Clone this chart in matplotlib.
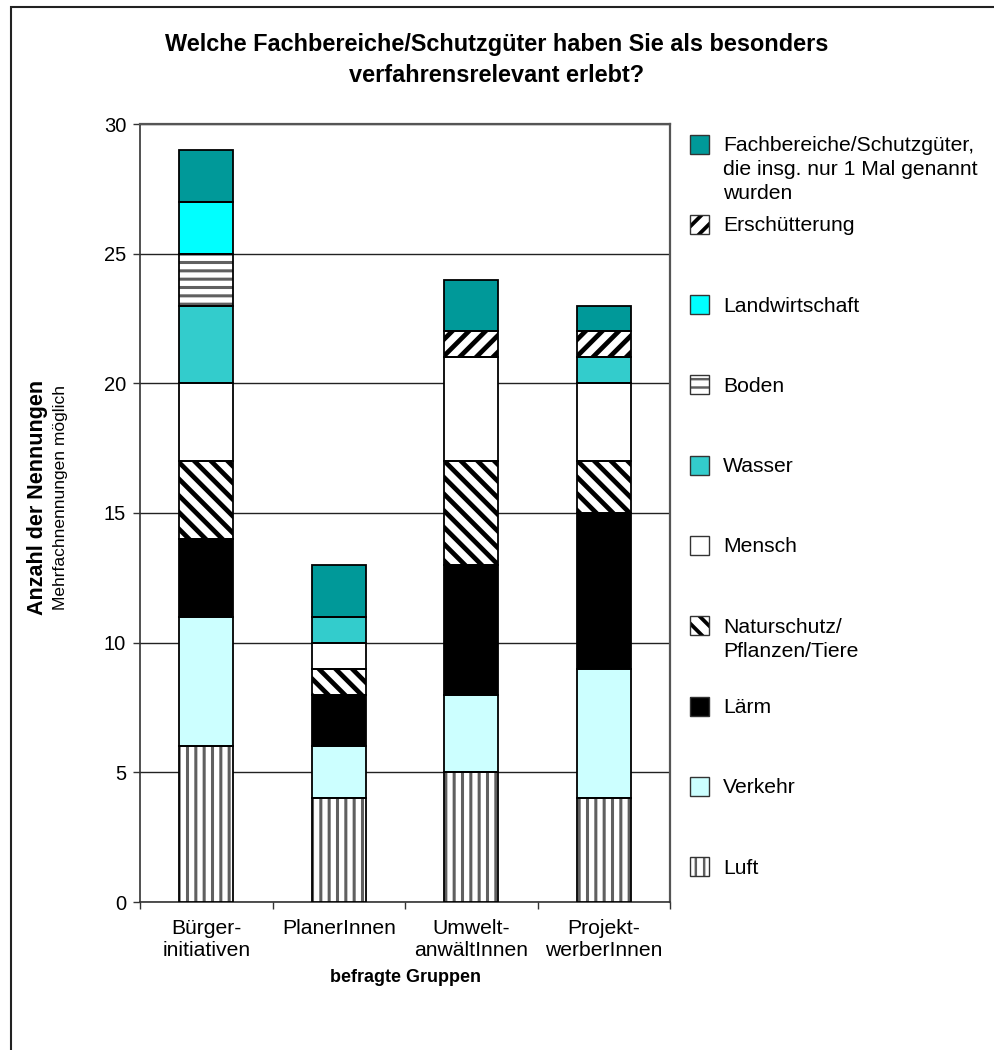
import matplotlib.pyplot as plt
import numpy as np
from matplotlib.patches import Rectangle

plt.rcParams['font.family'] = ['Liberation Sans', 'DejaVu Sans']
plt.rcParams['hatch.linewidth'] = 2.0

# Daten
gruppen = ['Bürger-\ninitiativen', 'PlanerInnen', 'Umwelt-\nanwältInnen', 'Projekt-\nwerberInnen']
luft = [6, 4, 5, 4]
verkehr = [5, 2, 3, 5]
laerm = [3, 2, 5, 6]
natur = [3, 1, 4, 2]
mensch = [3, 1, 4, 3]
wasser = [3, 1, 0, 1]
boden = [2, 0, 0, 0]
landwirtschaft = [2, 0, 0, 0]
erschuetterung = [0, 0, 1, 1]
einmalig = [2, 2, 2, 1]

# (Name, Werte, Füllfarbe, Schraffur, Schraffurfarbe, Schraffurbreite)
serien = [
    ('Luft', luft, 'white', '||', '#606060', 2.2),
    ('Verkehr', verkehr, '#ccffff', None, None, 0),
    ('Lärm', laerm, 'black', None, None, 0),
    ('Naturschutz/\nPflanzen/Tiere', natur, 'white', '\\\\', 'black', 3.4),
    ('Mensch', mensch, 'white', None, None, 0),
    ('Wasser', wasser, '#33cccc', None, None, 0),
    ('Boden', boden, 'white', '--', '#606060', 2.2),
    ('Landwirtschaft', landwirtschaft, '#00ffff', None, None, 0),
    ('Erschütterung', erschuetterung, 'white', '//', 'black', 3.4),
    ('Fachbereiche/Schutzgüter,\ndie insg. nur 1 Mal genannt\nwurden', einmalig, '#009999', None, None, 0),
]

W, H = 994, 1050
fig = plt.figure(figsize=(W / 100, H / 100), dpi=100)
ax = fig.add_axes([140 / W, 1 - 902 / H, 530 / W, 778 / H])

x = np.arange(len(gruppen))
breite = 0.41
unten = np.zeros(len(gruppen))


def zeichne(pos, hoehe, boden_, fc, hatch, hc, hlw):
    if hatch:
        bars = ax.bar(pos, hoehe, breite, bottom=boden_, color=fc, hatch=hatch,
                      edgecolor=hc, linewidth=0, zorder=3)
        for b in bars:
            if hasattr(b, 'set_hatch_linewidth'):
                b.set_hatch_linewidth(hlw)
    else:
        ax.bar(pos, hoehe, breite, bottom=boden_, color=fc, linewidth=0, zorder=3)
    ax.bar(pos, hoehe, breite, bottom=boden_, fill=False, edgecolor='black',
           linewidth=1.3, zorder=4)


for name, werte, fc, hatch, hc, hlw in serien:
    werte = np.array(werte, dtype=float)
    zeichne(x, werte, unten, fc, hatch, hc, hlw)
    unten += werte

ax.set_xlim(-0.5, 3.5)
ax.set_ylim(0, 30)
ax.set_yticks(np.arange(0, 31, 5))
ax.yaxis.grid(True, color='#222222', linewidth=1.0, zorder=0)
ax.set_axisbelow(True)
ax.tick_params(axis='y', labelsize=14.5, length=5, width=1.0, pad=5, color='#333333')
ax.set_xticks(x)
ax.set_xticklabels(gruppen, fontsize=15.2, linespacing=1.2)
ax.set_xticks(np.arange(-0.5, 3.6, 1), minor=True)
ax.tick_params(axis='x', which='major', length=0, pad=12)
ax.tick_params(axis='x', which='minor', length=5, width=1.0, color='#333333')
for s in ['left', 'bottom']:
    ax.spines[s].set_color('#333333')
    ax.spines[s].set_linewidth(1.2)
for s in ['top', 'right']:
    ax.spines[s].set_color('#555555')
    ax.spines[s].set_linewidth(1.6)

# Titel und Achsentitel
fig.text(0.5, 1 - 44 / H, 'Welche Fachbereiche/Schutzgüter haben Sie als besonders',
         ha='center', va='center', fontsize=16.9, fontweight='bold')
fig.text(0.5, 1 - 76 / H, 'verfahrensrelevant erlebt?',
         ha='center', va='center', fontsize=16.9, fontweight='bold')
fig.text(38 / W, 1 - 497 / H, 'Anzahl der Nennungen', rotation=90,
         ha='center', va='center', fontsize=15.5, fontweight='bold')
fig.text(60 / W, 1 - 497 / H, 'Mehrfachnennungen möglich', rotation=90,
         ha='center', va='center', fontsize=12.5)
fig.text(405 / W, 1 - 977 / H, 'befragte Gruppen',
         ha='center', va='center', fontsize=13, fontweight='bold')

# Legende (von oben nach unten)
zeilenabstand = 24
for i, (name, werte, fc, hatch, hc, hlw) in enumerate(serien[::-1]):
    yc = 144 + i * 80.3
    y0 = 1 - (yc + 9.5) / H
    kw = dict(transform=fig.transFigure, zorder=5)
    if hatch:
        r = Rectangle((690 / W, y0), 19 / W, 19 / H, facecolor=fc, hatch=hatch,
                      edgecolor=hc, linewidth=0, **kw)
        if hasattr(r, 'set_hatch_linewidth'):
            r.set_hatch_linewidth(hlw * 0.8)
    else:
        r = Rectangle((690 / W, y0), 19 / W, 19 / H, facecolor=fc, linewidth=0, **kw)
    fig.add_artist(r)
    fig.add_artist(Rectangle((690 / W, y0), 19 / W, 19 / H, fill=False,
                             edgecolor='#333333', linewidth=1.0, **kw))
    zeilen = name.split('\n')
    for j, zeile in enumerate(zeilen):
        fig.text(723 / W, 1 - (yc + 7 + j * zeilenabstand) / H, zeile,
                 ha='left', va='baseline', fontsize=15.2)

# Rahmen um das Diagramm
fig.add_artist(Rectangle((11 / W, -0.1), 2, 1.1 - 7 / H, fill=False,
                         edgecolor='#222222', linewidth=1.5,
                         transform=fig.transFigure))

fig.savefig('out.png', dpi=100)
